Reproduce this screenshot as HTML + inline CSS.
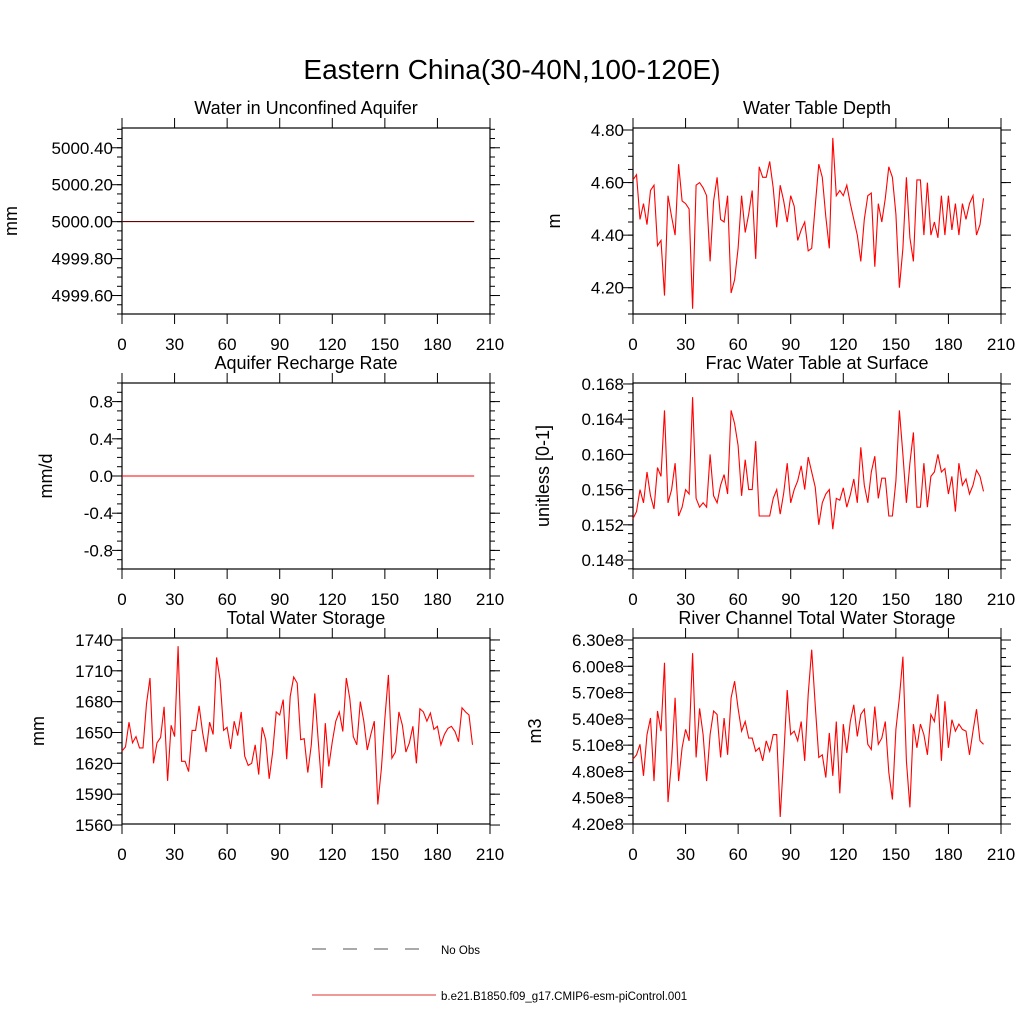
<!DOCTYPE html>
<html><head><meta charset="utf-8"><style>
html,body{margin:0;padding:0;background:#fff;}
svg text{font-family:"Liberation Sans",Arial,sans-serif;fill:#000;}
</style></head><body>
<svg id="fig" width="1024" height="1024" viewBox="0 0 1024 1024" xmlns="http://www.w3.org/2000/svg">
<rect width="1024" height="1024" fill="#fff"/>
<text x="512" y="79" font-size="28" text-anchor="middle">Eastern China(30-40N,100-120E)</text>
<g id="panels"></g>
<g>
<line x1="312" y1="949" x2="436" y2="949" stroke="#555" stroke-width="1" stroke-dasharray="14,17"/>
<text x="441" y="954" font-size="11.5">No Obs</text>
<line x1="312" y1="995" x2="436" y2="995" stroke="#e23030" stroke-width="1"/>
<text x="441" y="1000" font-size="11.5">b.e21.B1850.f09_g17.CMIP6-esm-piControl.001</text>
</g>
</svg>
<script>
const xTicks=[0,30,60,90,120,150,180,210];
const flatYears=[0,201];
const aquiferValues=[5000.0,5000.0];
const rechargeValues=[0.0,0.0];
const wtdValues=[4.61,4.63,4.46,4.52,4.44,4.57,4.59,4.36,4.38,4.17,4.55,4.47,4.40,4.67,4.53,4.52,4.50,4.12,4.59,4.60,4.58,4.55,4.30,4.53,4.62,4.46,4.45,4.55,4.18,4.23,4.35,4.55,4.41,4.48,4.57,4.31,4.66,4.62,4.62,4.68,4.58,4.43,4.59,4.53,4.45,4.55,4.51,4.38,4.42,4.45,4.34,4.35,4.51,4.67,4.62,4.47,4.35,4.77,4.55,4.57,4.55,4.59,4.52,4.46,4.40,4.30,4.46,4.55,4.56,4.28,4.52,4.45,4.54,4.66,4.62,4.48,4.20,4.35,4.62,4.39,4.30,4.61,4.61,4.40,4.60,4.40,4.45,4.39,4.55,4.40,4.55,4.42,4.52,4.40,4.52,4.46,4.52,4.55,4.40,4.44,4.54];
const fracValues=[0.1527,0.1535,0.1560,0.1545,0.1580,0.1553,0.1538,0.1585,0.1575,0.1650,0.1545,0.1560,0.1590,0.1530,0.1540,0.1560,0.1555,0.1665,0.1550,0.1540,0.1545,0.1540,0.1600,0.1553,0.1545,0.1565,0.1577,0.1555,0.1650,0.1635,0.1610,0.1553,0.1594,0.1560,0.1560,0.1615,0.1530,0.1530,0.1530,0.1530,0.1550,0.1560,0.1532,0.1556,0.1590,0.1545,0.1560,0.1570,0.1587,0.1560,0.1597,0.1580,0.1563,0.1520,0.1545,0.1555,0.1560,0.1515,0.1550,0.1548,0.1562,0.1540,0.1554,0.1572,0.1545,0.1608,0.1565,0.1545,0.1580,0.1598,0.1550,0.1573,0.1573,0.1530,0.1530,0.1570,0.1650,0.1600,0.1545,0.1590,0.1625,0.1540,0.1540,0.1590,0.1540,0.1575,0.1580,0.1600,0.1580,0.1584,0.1555,0.1575,0.1535,0.1590,0.1565,0.1572,0.1555,0.1565,0.1582,0.1575,0.1558];
const twsValues=[1632,1636,1660,1640,1646,1635,1635,1678,1703,1620,1640,1645,1675,1603,1657,1646,1734,1622,1622,1612,1652,1652,1676,1650,1631,1660,1648,1723,1701,1652,1655,1634,1661,1647,1670,1627,1618,1620,1638,1609,1655,1643,1605,1631,1670,1667,1682,1624,1685,1704,1698,1643,1644,1611,1638,1688,1641,1596,1659,1617,1641,1661,1670,1651,1703,1683,1646,1638,1680,1661,1633,1648,1661,1580,1615,1664,1706,1625,1631,1670,1657,1631,1640,1656,1620,1673,1670,1661,1669,1653,1656,1638,1648,1654,1656,1651,1641,1674,1670,1667,1638];
const riverValues=[4.94,4.99,5.11,4.75,5.22,5.41,4.69,5.49,5.26,6.04,4.45,4.92,5.64,4.69,5.07,5.28,5.15,6.15,4.96,5.52,5.22,4.69,5.22,5.49,5.45,4.96,5.41,4.99,5.64,5.83,5.52,5.26,5.37,5.18,5.18,5.03,5.07,4.92,5.15,5.03,5.22,5.22,4.28,4.96,5.73,5.22,5.26,5.15,5.37,4.92,5.68,6.19,5.56,4.96,4.99,4.73,5.24,4.75,5.37,4.55,5.34,5.01,5.37,5.56,5.20,5.45,5.51,5.11,5.05,5.54,5.11,5.18,5.37,4.79,4.48,5.28,5.64,6.11,4.92,4.39,5.34,5.07,5.34,5.22,4.99,5.45,5.37,5.68,4.92,5.60,5.07,5.39,5.26,5.34,5.28,5.26,4.99,5.26,5.51,5.15,5.11];
const aqTicks=[5000.4,5000.2,5000.0,4999.8,4999.6];
const rechTicks=[0.8,0.4,0.0,-0.4,-0.8];
const wtdTicks=[4.8,4.6,4.4,4.2];
const fracTicks=[0.168,0.164,0.160,0.156,0.152,0.148];
const twsTicks=[1740,1710,1680,1650,1620,1590,1560];
const riverTicks=[6.3,6.0,5.7,5.4,5.1,4.8,4.5,4.2];

const NS="http://www.w3.org/2000/svg";
const root=document.getElementById('panels');
function mk(tag,attrs,parent){const e=document.createElementNS(NS,tag);for(const k in attrs)e.setAttribute(k,attrs[k]);(parent||root).appendChild(e);return e;}
const evenYears=wtdValues.map((v,i)=>i*2);

const panels=[
 {id:'aquifer',title:'Water in Unconfined Aquifer',yl:'mm',L:122,T:128,ymin:4999.5,ymax:5000.507,ticks:aqTicks,minor:0.05,fmt:v=>v.toFixed(2),xs:flatYears,vals:aquiferValues,col:'#6b0000',ylx:17},
 {id:'water-table-depth',title:'Water Table Depth',yl:'m',L:633,T:128,ymin:4.10,ymax:4.8076,ticks:wtdTicks,minor:0.05,fmt:v=>v.toFixed(2),xs:evenYears,vals:wtdValues,col:'#ff0000',ylx:560},
 {id:'recharge',title:'Aquifer Recharge Rate',yl:'mm/d',L:122,T:383,ymin:-1,ymax:1,ticks:rechTicks,minor:0.1,fmt:v=>v.toFixed(1),xs:flatYears,vals:rechargeValues,col:'#ff0000',ylx:52},
 {id:'frac-water-table',title:'Frac Water Table at Surface',yl:'unitless [0-1]',L:633,T:383,ymin:0.14698,ymax:0.16811,ticks:fracTicks,minor:0.001,fmt:v=>v.toFixed(3),xs:evenYears,vals:fracValues,col:'#ff0000',ylx:549},
 {id:'total-water-storage',title:'Total Water Storage',yl:'mm',L:122,T:638,ymin:1561,ymax:1741.9,ticks:twsTicks,minor:10,fmt:v=>String(v),xs:evenYears,vals:twsValues,col:'#ff0000',ylx:44},
 {id:'river-storage',title:'River Channel Total Water Storage',yl:'m3',L:633,T:638,ymin:4.20,ymax:6.323,ticks:riverTicks,minor:0.1,fmt:v=>v.toFixed(2)+'e8',xs:evenYears,vals:riverValues,col:'#ff0000',ylx:541}
];
const W=368,H=186;
panels.forEach(p=>{
 const g=mk('g',{});
 
 
 const sx=v=>p.L+v/210*W;
 const sy=v=>p.T+H-(v-p.ymin)/(p.ymax-p.ymin)*H;
 const t=mk('text',{x:p.L+W/2,y:p.T-14,'font-size':18,'text-anchor':'middle'},g);
 t.textContent=p.title;
 
 
 const fr=mk('rect',{x:p.L,y:p.T,width:W,height:H,fill:'none',stroke:'#000','stroke-width':1.2},g);
 
 
 xTicks.forEach(v=>{
  const x=sx(v);
  mk('line',{x1:x,y1:p.T,x2:x,y2:p.T-10,stroke:'#000'},g);
  mk('line',{x1:x,y1:p.T+H,x2:x,y2:p.T+H+10,stroke:'#000'},g);
  const l=mk('text',{x:x,y:p.T+H+36,'font-size':17,'text-anchor':'middle'},g);
  l.textContent=v;
  
  
 });
 const n0=Math.ceil(p.ymin/p.minor-1e-6),n1=Math.floor(p.ymax/p.minor+1e-6);
 for(let n=n0;n<=n1;n++){const y=sy(n*p.minor);
  mk('line',{x1:p.L,y1:y,x2:p.L-5,y2:y,stroke:'#000'},g);
  mk('line',{x1:p.L+W,y1:y,x2:p.L+W+5,y2:y,stroke:'#000'},g);}
 p.ticks.forEach(v=>{const y=sy(v);
  mk('line',{x1:p.L,y1:y,x2:p.L-10,y2:y,stroke:'#000'},g);
  mk('line',{x1:p.L+W,y1:y,x2:p.L+W+10,y2:y,stroke:'#000'},g);
  const l=mk('text',{x:p.L-9,y:y+6,'font-size':17,'text-anchor':'end'},g);
  l.textContent=p.fmt(v);
  
  
 });
 const yt=mk('text',{x:0,y:0,'font-size':18,'text-anchor':'middle',transform:`translate(${p.ylx},${p.T+H/2}) rotate(-90)`},g);
 yt.textContent=p.yl;
 
 
 const pts=p.vals.map((v,i)=>sx(p.xs[i]).toFixed(1)+','+sy(v).toFixed(1)).join(' ');
 const pl=mk('polyline',{points:pts,fill:'none',stroke:p.col,'stroke-width':1.1},g);
 
 
});
</script>
</body></html>
